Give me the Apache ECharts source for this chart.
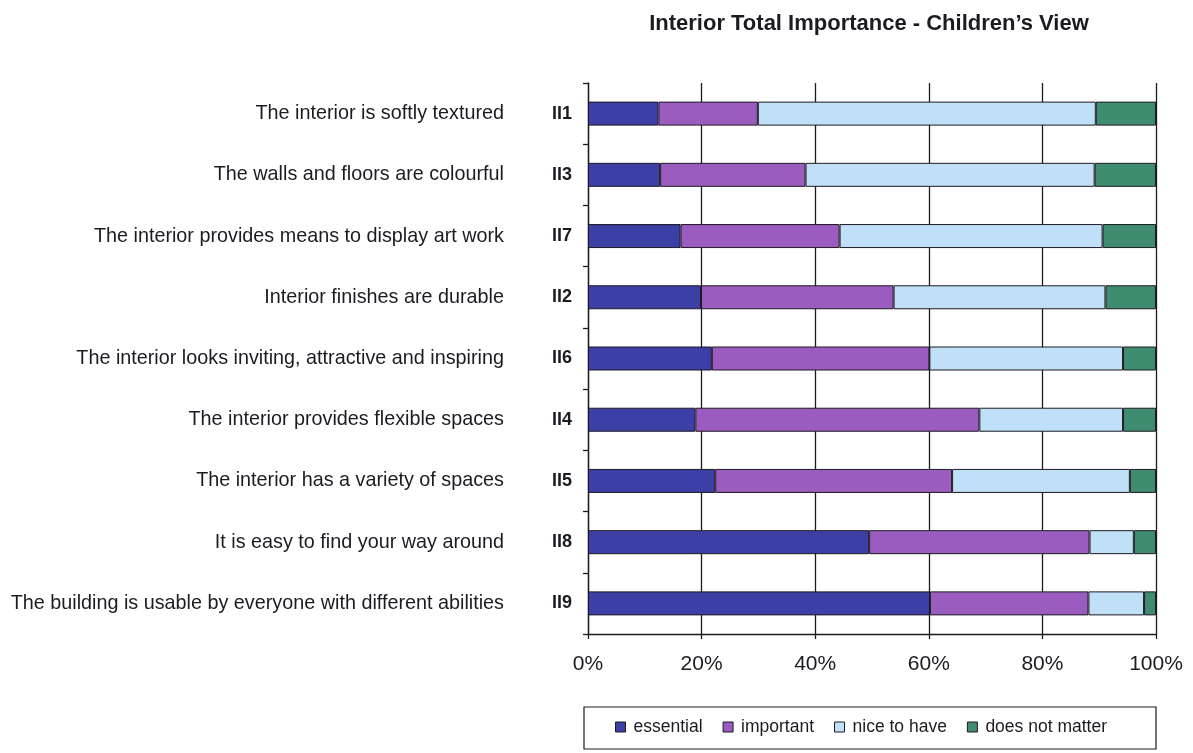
<!DOCTYPE html>
<html>
<head>
<meta charset="utf-8">
<style>
  html, body { margin: 0; padding: 0; background: #fff; }
  #chart { width: 1193px; height: 753px; }
</style>
<script src="https://cdn.jsdelivr.net/npm/echarts@6/dist/echarts.min.js"></script>
</head>
<body>
<div id="chart"></div>
<script>
// Item codes and their statements, top to bottom
const codes = ['II1', 'II3', 'II7', 'II2', 'II6', 'II4', 'II5', 'II8', 'II9'];
const statements = [
  'The interior is softly textured',
  'The walls and floors are colourful',
  'The interior provides means to display art work',
  'Interior finishes are durable',
  'The interior looks inviting, attractive and inspiring',
  'The interior provides flexible spaces',
  'The interior has a variety of spaces',
  'It is easy to find your way around',
  'The building is usable by everyone with different abilities'
];

// Share of answers (%) per item
const essential     = [12.4, 12.7, 16.3, 19.9, 21.8, 18.9, 22.4, 49.5, 60.2];
const important     = [17.5, 25.6, 28.0, 33.9, 38.3, 50.0, 41.7, 38.8, 27.9];
const niceToHave    = [59.5, 50.9, 46.3, 37.3, 34.1, 25.3, 31.3, 7.8, 9.8];
const doesNotMatter = [10.6, 10.8, 9.4, 8.9, 5.8, 5.8, 4.6, 3.9, 2.1];

const seriesNames = ['essential', 'important', 'nice to have', 'does not matter'];
const xTicks = [0, 20, 40, 60, 80, 100];

const FONT = '"Liberation Sans", Arial, sans-serif';
const INK = '#1e1a22';

const colors = ['#3b3fa6', '#9a5dbf', '#bfe0f7', '#3f8c70'];
const values = [essential, important, niceToHave, doesNotMatter];

const chart = echarts.init(document.getElementById('chart'));

chart.setOption({
  animation: false,
  backgroundColor: '#fff',
  title: {
    text: "Interior Total Importance - Children\u2019s View",
    left: 864,
    textAlign: 'center',
    top: 8,
    textStyle: { fontFamily: FONT, fontSize: 22, fontWeight: 'bold', color: INK }
  },
  // frame around the legend
  graphic: [{
    type: 'rect',
    shape: { x: 584, y: 707, width: 572, height: 42 },
    style: { fill: 'none', stroke: INK, lineWidth: 1.2 },
    silent: true
  }],
  legend: {
    data: seriesNames,
    left: 611,
    top: 714,
    orient: 'horizontal',
    icon: 'rect',
    itemWidth: 10,
    itemHeight: 10,
    itemGap: 20,
    padding: [4, 4],
    itemStyle: { borderColor: INK, borderWidth: 1 },
    textStyle: { fontFamily: FONT, fontSize: 17.5, color: INK, padding: [0, 0, 0, 3] }
  },
  grid: { left: 588, right: 37, top: 83, bottom: 119, containLabel: false },
  xAxis: {
    type: 'value',
    min: xTicks[0],
    max: xTicks[xTicks.length - 1],
    interval: 20,
    axisLine: { show: true, lineStyle: { color: INK, width: 1.3 } },
    axisTick: { show: true, length: 5, lineStyle: { color: INK, width: 1.3 } },
    splitLine: { show: true, lineStyle: { color: INK, width: 1.3 } },
    axisLabel: {
      margin: 20,
      fontFamily: FONT,
      fontSize: 21,
      color: INK,
      formatter: v => v + '%'
    }
  },
  yAxis: {
    type: 'category',
    inverse: true,
    data: codes,
    axisLine: { show: true, lineStyle: { color: INK, width: 1.3 } },
    axisTick: { show: true, length: 5, lineStyle: { color: INK, width: 1.3 } },
    splitLine: { show: false },
    axisLabel: {
      margin: 16,
      formatter: (code, idx) => '{d|' + statements[idx] + '}{c|' + code + '}',
      rich: {
        d: { fontFamily: FONT, fontSize: 19.8, color: INK },
        c: { fontFamily: FONT, fontSize: 18, fontWeight: 'bold', color: INK, width: 68, align: 'right' }
      }
    }
  },
  series: seriesNames.map((name, i) => ({
    name,
    type: 'bar',
    stack: 'total',
    barWidth: 24,
    data: values[i],
    itemStyle: { color: colors[i], borderColor: INK, borderWidth: 1 }
  }))
});
</script>
</body>
</html>
